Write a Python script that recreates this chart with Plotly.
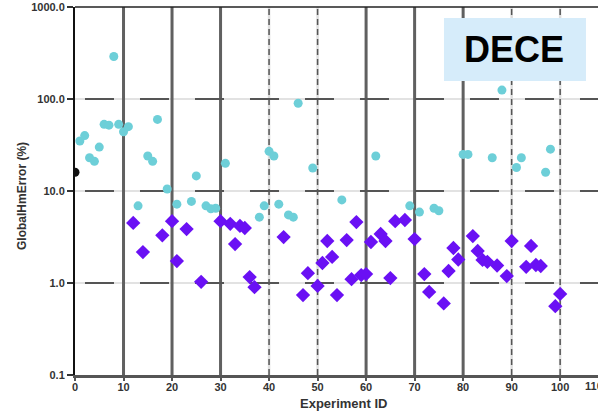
import plotly.graph_objects as go

# ---- data ----
cyan_x = [1, 2, 3, 4, 5, 6, 7, 8, 9, 10, 11, 13, 15, 16, 17, 19, 21, 24, 25, 27, 28, 29, 31,
          38, 39, 40, 41, 42, 44, 45, 46, 49, 55, 62, 69, 71, 74, 75, 80, 81, 86, 88, 91, 92, 97, 98]
cyan_y = [35, 40, 23, 21, 30, 53, 52, 290, 53, 44, 50, 6.9, 24, 21, 60, 10.5, 7.2, 7.7, 14.6, 6.9, 6.4, 6.5, 20,
          5.2, 6.9, 27, 24, 7.2, 5.5, 5.2, 90, 17.8, 8.0, 24, 6.9, 5.9, 6.5, 6.1, 25, 25, 23, 125, 18, 23, 16, 28.5]

purple_x = [12, 14, 18, 20, 21, 23, 26, 30, 32, 33, 34, 35, 36, 37, 43, 47, 48, 50, 51, 52, 53, 54,
            56, 57, 58, 59, 60, 61, 63, 64, 65, 66, 68, 70, 72, 73, 76, 77, 78, 79, 82, 83, 84, 85,
            87, 89, 90, 93, 94, 95, 96, 99, 100]
purple_y = [4.5, 2.17, 3.3, 4.7, 1.73, 3.86, 1.03, 4.7, 4.4, 2.65, 4.17, 3.96, 1.16, 0.9, 3.16, 0.74, 1.28, 0.93, 1.65, 2.86, 1.92, 0.74,
            2.93, 1.1, 4.6, 1.22, 1.25, 2.79, 3.41, 2.86, 1.13, 4.7, 4.84, 3.0, 1.25, 0.8, 0.6, 1.35, 2.4, 1.8, 3.24, 2.23, 1.78, 1.7,
            1.55, 1.19, 2.86, 1.5, 2.53, 1.57, 1.53, 0.56, 0.76]

ref_x = [0]
ref_y = [16]

x_ticks = [0, 10, 20, 30, 40, 50, 60, 70, 80, 90, 100]
x_ticktext = ["0", "10", "20", "30", "40", "50", "60", "70", "80", "90", "100"]
y_ticks = [0.1, 1, 10, 100, 1000]
y_ticktext = ["0.1", "1.0", "10.0", "100.0", "1000.0"]
solid_lines = [10, 20, 30, 60, 70, 80]
dashed_lines = [40, 50, 90, 100]
h_lines = [1, 10, 100]

FONT = "Liberation Sans, Arial, sans-serif"
X_MAX = 107.8

fig = go.Figure()
fig.add_trace(go.Scatter(x=cyan_x, y=cyan_y, mode="markers",
                         marker=dict(symbol="circle", size=9, color="#6dcfd8", line=dict(width=0)),
                         showlegend=False))
fig.add_trace(go.Scatter(x=purple_x, y=purple_y, mode="markers",
                         marker=dict(symbol="diamond", size=11, color="#6a10f4", line=dict(width=0)),
                         showlegend=False))
fig.add_trace(go.Scatter(x=ref_x, y=ref_y, mode="markers",
                         marker=dict(symbol="circle", size=9, color="#111111", line=dict(width=0)),
                         showlegend=False))

shapes = []
# light grey full grid lines
for yv in h_lines:
    shapes.append(dict(type="line", xref="paper", yref="y", x0=0, x1=1, y0=yv, y1=yv,
                       line=dict(color="#e2e2e2", width=2), layer="below"))
for xv in dashed_lines:
    shapes.append(dict(type="line", xref="x", yref="paper", x0=xv, x1=xv, y0=0, y1=1,
                       line=dict(color="#dedede", width=2.5), layer="below"))
# dark dashes on horizontal grid lines
for yv in h_lines:
    shapes.append(dict(type="line", xref="x", yref="y", x0=2.06, x1=X_MAX, y0=yv, y1=yv,
                       line=dict(color="#555555", width=2, dash="29px,26px"), layer="below"))
# dashed vertical lines
for xv in dashed_lines:
    shapes.append(dict(type="line", xref="x", yref="paper", x0=xv, x1=xv, y0=0, y1=1,
                       line=dict(color="#555555", width=1.5, dash="6px,4px"), layer="below"))
# thick solid vertical lines
for xv in solid_lines:
    shapes.append(dict(type="line", xref="x", yref="paper", x0=xv, x1=xv, y0=0, y1=1,
                       line=dict(color="#606060", width=3), layer="below"))
# top border
shapes.append(dict(type="line", xref="paper", yref="paper", x0=0, x1=1, y0=1, y1=1,
                   line=dict(color="#222222", width=1.5), layer="above"))
# DECE label box
shapes.append(dict(type="rect", xref="paper", yref="paper", x0=0.7055, x1=0.977, y0=0.799, y1=0.970,
                   fillcolor="#d6ecfa", line=dict(width=0), layer="above"))

annotations = [
    dict(text="<b>DECE</b>", xref="paper", yref="paper", x=0.839, y=0.885, showarrow=False,
         font=dict(family=FONT, size=36, color="#000000"), xanchor="center", yanchor="middle"),
    dict(text="<b>Experiment ID</b>", xref="paper", yref="paper", x=0.514, y=-0.078, showarrow=False,
         font=dict(family=FONT, size=13, color="#333333"), xanchor="center", yanchor="middle"),
    dict(text="<b>GlobalHmError (%)</b>", xref="paper", yref="paper", x=-0.101, y=0.487, showarrow=False,
         textangle=-90, font=dict(family=FONT, size=12, color="#333333"), xanchor="center", yanchor="middle"),
    dict(text="<b>110</b>", xref="paper", yref="paper", x=0.992, y=-0.030, showarrow=False,
         font=dict(family=FONT, size=11, color="#333333"), xanchor="center", yanchor="middle"),
]

fig.update_layout(
    width=598, height=412,
    margin=dict(l=75, r=0, t=7, b=37),
    paper_bgcolor="white", plot_bgcolor="white",
    shapes=shapes, annotations=annotations,
    xaxis=dict(range=[0, X_MAX], tickvals=x_ticks, ticktext=x_ticktext,
               showgrid=False,
               showline=True, linecolor="#555555", linewidth=3,
               ticks="outside", ticklen=3, tickcolor="#555555", tickwidth=2,
               ticklabelstandoff=-3,
               tickfont=dict(family=FONT, size=11, color="#333333", weight="bold"),
               zeroline=False),
    yaxis=dict(type="log", range=[-1, 3], tickvals=y_ticks, ticktext=y_ticktext,
               showgrid=False,
               showline=True, linecolor="#111111", linewidth=2,
               ticks="outside", ticklen=6, tickcolor="#333333", tickwidth=1.5,
               tickfont=dict(family=FONT, size=11, color="#333333", weight="bold"),
               zeroline=False),
)

fig.write_html("out.html")
